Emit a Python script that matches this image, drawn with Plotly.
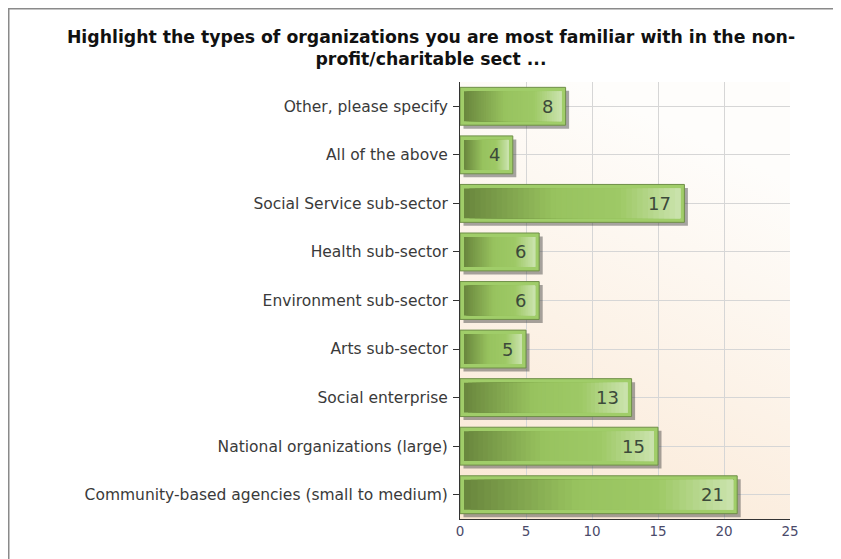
import base64
import plotly.graph_objects as go

categories = [
    "Community-based agencies (small to medium)",
    "National organizations (large)",
    "Social enterprise",
    "Arts sub-sector",
    "Environment sub-sector",
    "Health sub-sector",
    "Social Service sub-sector",
    "All of the above",
    "Other, please specify",
]
values = [21, 15, 13, 5, 6, 6, 17, 4, 8]
x_ticks = [0, 5, 10, 15, 20, 25]
title_text = "<b>Highlight the types of organizations you are most familiar with in the non-<br>profit/charitable sect ...</b>"

# page body has an 8px margin, so the figure is placed at (8, 8)
W, H = 833, 551
ML, MR, MT, MB = 452, 51, 74, 40
PW, PH = W - ML - MR, H - MT - MB

def px_x(p):
    return (p - ML) / PW

def px_y(p):
    return (H - MB - p) / PH

FONT = "DejaVu Sans, Verdana, sans-serif"

fig = go.Figure()

# gradient plot background
svg = ('<svg xmlns="http://www.w3.org/2000/svg" width="100" height="100" preserveAspectRatio="none">'
       '<defs><linearGradient id="g" x1="0.35" y1="0" x2="0" y2="1">'
       '<stop offset="0" stop-color="#fefdfb"/><stop offset="1" stop-color="#fae7d3"/>'
       '</linearGradient></defs><rect width="100" height="100" fill="url(#g)"/></svg>')
src = "data:image/svg+xml;base64," + base64.b64encode(svg.encode()).decode()
fig.add_layout_image(source=src, xref="paper", yref="paper", x=0, y=1, sizex=1, sizey=1,
                     sizing="stretch", xanchor="left", yanchor="top", layer="below")

unit = PW / 25.0  # px per value unit
cat_px = PH / len(categories)
BW = 0.78
# shadow
fig.add_trace(go.Bar(y=categories, x=values, base=[3.5 / unit] * len(values), orientation="h",
                     width=BW, offset=-BW / 2 - 3.5 / cat_px,
                     marker=dict(color="rgba(60,60,60,0.45)", line_width=0),
                     hoverinfo="skip", showlegend=False))
# outer frame
fig.add_trace(go.Bar(y=categories, x=values, orientation="h", width=BW,
                     marker=dict(color="#a0cd69", line=dict(color="#6f8f48", width=1)),
                     hoverinfo="skip", showlegend=False))

# inner gradient
def lerp(c1, c2, t):
    return tuple(round(a + (b - a) * t) for a, b in zip(c1, c2))

stops = [(0.0, (0x69, 0x86, 0x3d)), (0.42, (0x98, 0xc3, 0x5f)), (0.72, (0x9e, 0xc9, 0x66)), (1.0, (0xcb, 0xe3, 0xae))]

def color_at(t):
    for (t0, c0), (t1, c1) in zip(stops[:-1], stops[1:]):
        if t <= t1:
            return lerp(c0, c1, (t - t0) / (t1 - t0))
    return stops[-1][1]

N = 40
inset = 4.0 / unit
IW = BW - 8.0 / cat_px
for i in range(N):
    f0 = i / N
    r, g, b = color_at(f0 + 0.5 / N)
    bases = [inset + (v - 2 * inset) * f0 for v in values]
    lens = [(v - 2 * inset) * (1 - f0) for v in values]
    fig.add_trace(go.Bar(y=categories, x=lens, base=bases, orientation="h", width=IW,
                         marker=dict(color=f"rgb({r},{g},{b})", line_width=0),
                         hoverinfo="skip", showlegend=False))

for c, v in zip(categories, values):
    fig.add_annotation(x=v, y=c, xref="x", yref="y", text=str(v), showarrow=False,
                       xanchor="right", xshift=-11, font=dict(size=18, color="#3c4a3a", family=FONT))

fig.update_layout(
    width=W, height=H,
    margin=dict(l=ML, r=MR, t=MT, b=MB),
    paper_bgcolor="white", plot_bgcolor="rgba(0,0,0,0)",
    barmode="overlay", bargap=0.22,
    font=dict(family=FONT, size=15.5, color="#3a3a3a"),
    title=dict(text=title_text, x=423 / W, xanchor="center", y=1 - 35 / H, yanchor="top",
               font=dict(size=17.3, color="#111111", family=FONT)),
    xaxis=dict(range=[0, 25], tickvals=x_ticks, showgrid=True, gridcolor="#d6d6d6", gridwidth=1,
               zeroline=False, showline=True, linecolor="#333333", linewidth=1,
               ticks="", tickfont=dict(size=13.5, color="#4a4a6a"), fixedrange=True),
    yaxis=dict(categoryorder="array", categoryarray=categories, showgrid=True, gridcolor="#d6d6d6",
               showline=True, linecolor="#333333", linewidth=1, ticks="outside", ticklen=6,
               tickcolor="#333333", ticklabelstandoff=2, tickfont=dict(size=15.5, color="#3a3a3a")),
    shapes=[
        dict(type="line", xref="paper", yref="paper", x0=px_x(0), x1=px_x(W + 5), y0=px_y(0.75), y1=px_y(0.75),
             line=dict(color="#8a8a8a", width=1.5)),
        dict(type="line", xref="paper", yref="paper", x0=px_x(0.75), x1=px_x(0.75), y0=px_y(0), y1=px_y(H + 5),
             line=dict(color="#8a8a8a", width=1.5)),
    ],
)

fig.write_html("out.html")
